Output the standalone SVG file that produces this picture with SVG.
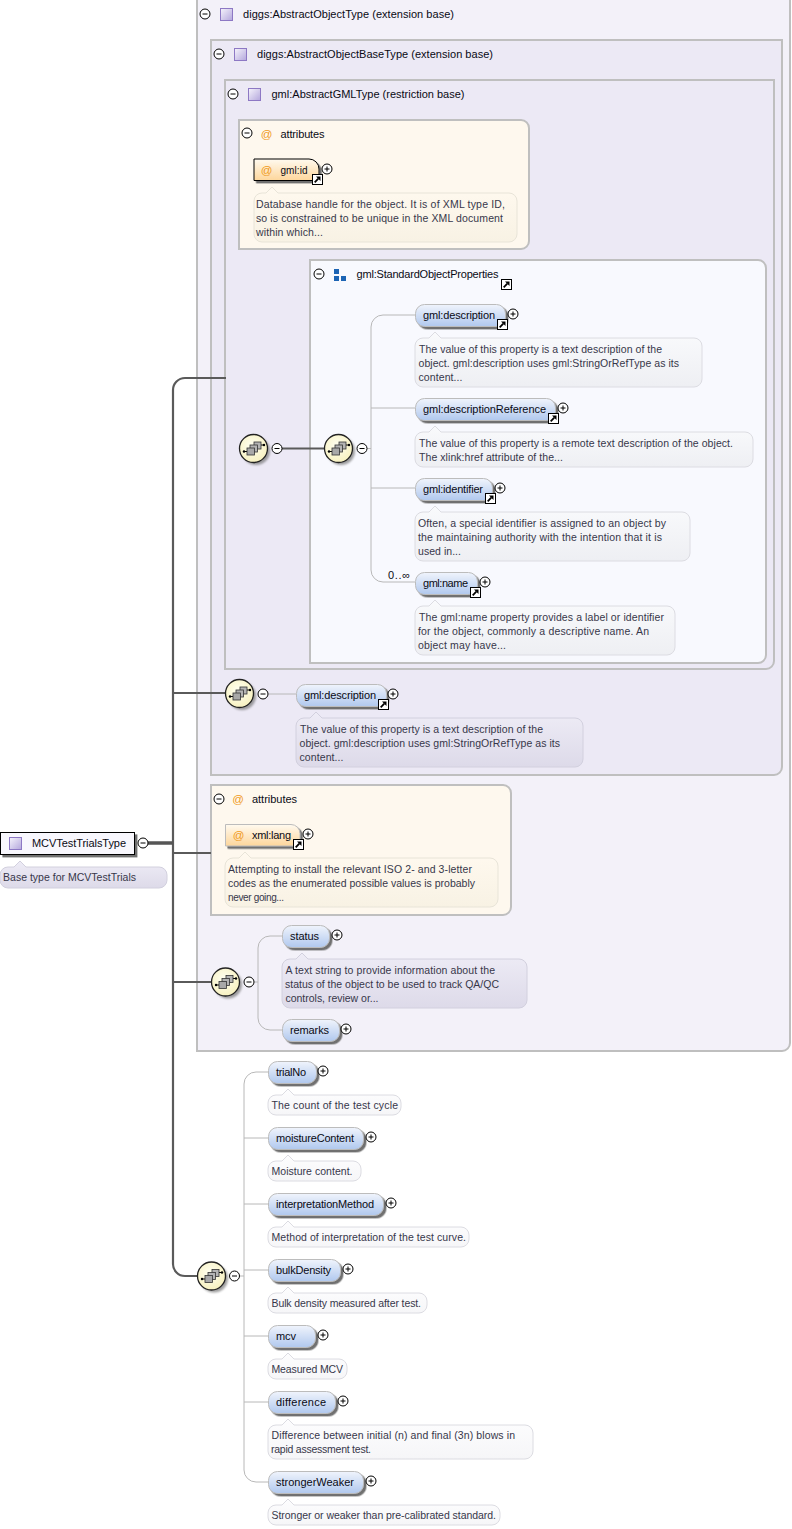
<svg xmlns="http://www.w3.org/2000/svg" width="792" height="1529" viewBox="0 0 792 1529">
<style>
text{font-family:"Liberation Sans",Arial,sans-serif;font-size:11px;fill:#0a0a14}
.d{font-size:10.5px;fill:#37374a}
.s{font-size:10px}
.box{stroke:#bfbfbf;stroke-width:2}
.rule{stroke:url(#rule);stroke-width:3;fill:none}
.el{fill:url(#blue);stroke:#bcbcbc;stroke-width:1;filter:url(#ds)}
.attr{fill:url(#org);stroke:#bcbcbc;filter:url(#ds)}
.doc{stroke:#dcdce2;stroke-width:1}
.dl{fill:url(#dl);stroke:#d2d0de}.dw{fill:url(#dw)}.dc{fill:url(#dc);stroke:#e8e4d8}.dg{fill:url(#dg)}
.c1{fill:none;stroke:#b8b8b8;stroke-width:1}
.c2{fill:none;stroke:#5a5a5a;stroke-width:2.2}
</style>
<defs>
<filter id="ds" x="-10%" y="-20%" width="125%" height="150%"><feDropShadow dx="2.4" dy="2.4" stdDeviation=".7" flood-color="#6f6f6f"/></filter>
<filter id="ss" x="-20%" y="-20%" width="150%" height="150%"><feGaussianBlur stdDeviation="1.2"/></filter>
<linearGradient id="blue" x1="0" y1="0" x2="0" y2="1"><stop offset="0" stop-color="#f0f4fc"/><stop offset="1" stop-color="#b0c8ee"/></linearGradient>
<linearGradient id="org" x1="0" y1="0" x2="0" y2="1"><stop offset="0" stop-color="#fffaf0"/><stop offset="1" stop-color="#fdd69b"/></linearGradient>
<linearGradient id="dl" x1="0" y1="0" x2="0" y2="1"><stop offset="0" stop-color="#eeecf6"/><stop offset="1" stop-color="#dddae9"/></linearGradient>
<linearGradient id="dw" x1="0" y1="0" x2="0" y2="1"><stop offset="0" stop-color="#fdfdfe"/><stop offset="1" stop-color="#f6f6f8"/></linearGradient>
<linearGradient id="dc" x1="0" y1="0" x2="0" y2="1"><stop offset="0" stop-color="#fff9ef"/><stop offset="1" stop-color="#f8f2e4"/></linearGradient>
<linearGradient id="dg" x1="0" y1="0" x2="0" y2="1"><stop offset="0" stop-color="#f9fafc"/><stop offset="1" stop-color="#eeeff3"/></linearGradient>
<linearGradient id="rule" x1="0" y1="0" x2="1" y2="0"><stop offset="0" stop-color="#dcdce0" stop-opacity=".4"/><stop offset=".3" stop-color="#dcdce0"/><stop offset="1" stop-color="#dcdce0" stop-opacity="0"/></linearGradient>
<linearGradient id="ty" x1="0" y1="0" x2="1" y2="1"><stop offset="0" stop-color="#f6f4fc"/><stop offset="1" stop-color="#b3a6dc"/></linearGradient>
<radialGradient id="cy" cx=".45" cy=".4" r=".7"><stop offset="0" stop-color="#fffff2"/><stop offset="1" stop-color="#f6efb8"/></radialGradient>
<g id="minus"><circle r="5" fill="#fff" stroke="#000"/><path d="M-2.5 0H2.5" stroke="#000"/></g>
<g id="plus"><circle r="5" fill="#fff" stroke="#000"/><path d="M-2.5 0H2.5M0 -2.5V2.500" stroke="#000"/></g>
<g id="link"><rect width="10" height="10" fill="#fff" stroke="#000"/><path d="M2.2 7.800L5.800 4.200" stroke="#000" stroke-width="1.800"/><path d="M3.500 2H8V6.500z" fill="#000"/></g>
<g id="type"><rect x="-6" y="-6" width="12" height="12" fill="url(#ty)" stroke="#8d78c4"/></g>
<g id="seq">
<circle cx="2.500" cy="2.500" r="14" fill="#777" opacity=".7" filter="url(#ss)"/>
<circle r="14" fill="url(#cy)" stroke="#222" stroke-width="1.300"/>
<path d="M-9.500 3H-6.500M7.500 -3.500H10.500" stroke="#000"/><circle cx="-9.500" cy="3" r="1.200" fill="#000"/><circle cx="10.500" cy="-3.500" r="1.200" fill="#000"/>
<rect x=".5" y="-6.500" width="7" height="7" fill="#b4b4b4" stroke="#333" stroke-width=".8"/>
<rect x="-3.500" y="-3.500" width="7.500" height="7" fill="#b4b4b4" stroke="#333" stroke-width=".8"/>
<rect x="-6.500" y="-.5" width="7.500" height="7" fill="#a8a8a8" stroke="#333" stroke-width=".8"/>
</g>
<g id="at"><text y="4" style="fill:#f09a1a;font-size:11.5px" text-anchor="middle">@</text></g>
</defs>
<rect width="792" height="1529" fill="#fff"/>

<g id="base1">
<path class="box" fill="#f3f1f9" d="M197 -3V1051H782a8 8 0 0 0 8 -8V-3z"/>
<path class="rule" d="M198 29H640"/>
<use href="#minus" x="205" y="14"/><use href="#type" x="226.500" y="14.500"/>
<text x="243" y="18" textLength="211">diggs:AbstractObjectType (extension base)</text>
</g>
<g id="base2">
<path class="box" fill="#ece9f5" d="M211 40H782V767a8 8 0 0 1 -8 8H211z"/>
<path class="rule" d="M212 69H640"/>
<use href="#minus" x="219" y="54"/><use href="#type" x="240.500" y="54.500"/>
<text x="257" y="58" textLength="236">diggs:AbstractObjectBaseType (extension base)</text>
</g>
<g id="base3">
<path class="box" fill="#ece9f5" d="M225 80H774V661a8 8 0 0 1 -8 8H225z"/>
<path class="rule" d="M226 109H640"/>
<use href="#minus" x="233" y="94"/><use href="#type" x="254.500" y="94.500"/>
<text x="271.500" y="98" textLength="193">gml:AbstractGMLType (restriction base)</text>
</g>
<g id="attributes1">
<path class="box" fill="#fef8ee" d="M239 120H521a8 8 0 0 1 8 8V241a8 8 0 0 1 -8 8H239z"/>
<path class="rule" d="M240 148H460"/>
<use href="#minus" x="247" y="133"/><use href="#at" x="266.500" y="134"/>
<text x="280.500" y="138" textLength="44">attributes</text>
</g>
<g id="StandardObjectProperties">
<path class="box" fill="#f8f9fe" d="M310 260H758a8 8 0 0 1 8 8V655a8 8 0 0 1 -8 8H310z"/>
<path class="rule" d="M311 293H650"/>
<use href="#minus" x="319" y="274"/>
<path d="M334 269h5v5h-5zM334 276h5v5h-5zM341 276h5v5h-5z" fill="#1c64b4"/>
<text x="356.500" y="278" textLength="142">gml:StandardObjectProperties</text>
<use href="#link" x="501.500" y="279.500"/>
</g>
<g id="attributes2">
<path class="box" fill="#fef8ee" d="M211 785H503a8 8 0 0 1 8 8V907a8 8 0 0 1 -8 8H211z"/>
<path class="rule" d="M212 813H440"/>
<use href="#minus" x="219" y="799"/><use href="#at" x="238" y="799"/>
<text x="252" y="803" textLength="45">attributes</text>
</g>

<g id="connectors">
<path class="c2" d="M226 378H185a12 12 0 0 0 -12 12V1264a12 12 0 0 0 12 12H199"/>
<path class="c2" d="M173 693H226M173 853H211M173 982H212"/>
<path d="M148 843H173" fill="none" stroke="#555" stroke-width="3.500"/>
<path class="c2" d="M282 448.500H326"/>
<path class="c1" d="M367 448.500H371M415 315H383a12 12 0 0 0 -12 12V570a12 12 0 0 0 12 12H415M371 408H415M371 488H415"/>
<path class="c1" d="M268 694H296"/>
<path class="c1" d="M254 982H258M282 936H270a12 12 0 0 0 -12 12V1018a12 12 0 0 0 12 12H282"/>
<path class="c1" d="M240 1276H244M268 1072H256a12 12 0 0 0 -12 12V1470a12 12 0 0 0 12 12H268M244 1138H268M244 1204H268M244 1270H268M244 1336H268M244 1402H268"/>
</g>

<g id="gml-id">
<path fill="url(#org)" stroke="#000" filter="url(#ds)" d="M254 159H309a10 10 0 0 1 10 10V180.500H254z"/>
<use href="#at" x="266.500" y="170"/>
<text class="s" x="280.500" y="174" textLength="27">gml:id</text>
<use href="#link" x="312.500" y="174.500"/><use href="#plus" x="327" y="169"/>
<path class="doc dc" d="M262 193H266L272 187L278 193H509a8 8 0 0 1 8 8V234a8 8 0 0 1 -8 8H262a8 8 0 0 1 -8 -8V201a8 8 0 0 1 8 -8z"/>
<text class="d" x="256" y="208" textLength="249">Database handle for the object. It is of XML type ID,</text>
<text class="d" x="256" y="222" textLength="247">so is constrained to be unique in the XML document</text>
<text class="d" x="256" y="236" textLength="67">within which...</text>
</g>
<g id="seq1"><use href="#seq" x="253.500" y="448.500"/><use href="#minus" x="277" y="448.500"/></g>
<g id="seq2"><use href="#seq" x="338.500" y="448.500"/><use href="#minus" x="362" y="448.500"/></g>

<g id="description">
<rect class="el" x="415.500" y="304.500" width="90" height="22" rx="9"/>
<text x="423" y="319" textLength="72">gml:description</text>
<use href="#link" x="497.500" y="319.500"/><use href="#plus" x="513" y="314"/>
<path class="doc dg" d="M423 338H429L435 332L441 338H694a8 8 0 0 1 8 8V379a8 8 0 0 1 -8 8H423a8 8 0 0 1 -8 -8V346a8 8 0 0 1 8 -8z"/>
<text class="d" x="419" y="353" textLength="243">The value of this property is a text description of the</text>
<text class="d" x="418.500" y="367" textLength="260.500">object. gml:description uses gml:StringOrRefType as its</text>
<text class="d" x="418.500" y="381" textLength="44">content...</text>
</g>
<g id="descriptionReference">
<rect class="el" x="415.500" y="398.500" width="140" height="22" rx="9"/>
<text x="423" y="413" textLength="123">gml:descriptionReference</text>
<use href="#link" x="548.500" y="413.500"/><use href="#plus" x="563" y="408"/>
<path class="doc dg" d="M423 432H429L435 426L441 432H745a8 8 0 0 1 8 8V459a8 8 0 0 1 -8 8H423a8 8 0 0 1 -8 -8V440a8 8 0 0 1 8 -8z"/>
<text class="d" x="419" y="447" textLength="314">The value of this property is a remote text description of the object.</text>
<text class="d" x="419" y="461" textLength="144">The xlink:href attribute of the...</text>
</g>
<g id="identifier">
<rect class="el" x="415.500" y="478.500" width="77" height="22" rx="9"/>
<text x="423" y="493" textLength="60">gml:identifier</text>
<use href="#link" x="485.500" y="493.500"/><use href="#plus" x="500" y="488"/>
<path class="doc dg" d="M423 512H429L435 506L441 512H682a8 8 0 0 1 8 8V553a8 8 0 0 1 -8 8H423a8 8 0 0 1 -8 -8V520a8 8 0 0 1 8 -8z"/>
<text class="d" x="418" y="527" textLength="248">Often, a special identifier is assigned to an object by</text>
<text class="d" x="418" y="541" textLength="244">the maintaining authority with the intention that it is</text>
<text class="d" x="418" y="555" textLength="43">used in...</text>
</g>
<g id="name">
<text x="388" y="579" textLength="22">0..∞</text>
<rect class="el" x="415.500" y="572.500" width="62" height="22" rx="9"/>
<text x="423" y="587" textLength="45">gml:name</text>
<use href="#link" x="470.500" y="587.500"/><use href="#plus" x="485" y="582"/>
<path class="doc dg" d="M423 606H429L435 600L441 606H667a8 8 0 0 1 8 8V647a8 8 0 0 1 -8 8H423a8 8 0 0 1 -8 -8V614a8 8 0 0 1 8 -8z"/>
<text class="d" x="419" y="621" textLength="245">The gml:name property provides a label or identifier</text>
<text class="d" x="418" y="635" textLength="231">for the object, commonly a descriptive name. An</text>
<text class="d" x="418" y="649" textLength="88">object may have...</text>
</g>

<g id="seq3"><use href="#seq" x="239.500" y="693.500"/><use href="#minus" x="263" y="694"/></g>
<g id="description2">
<rect class="el" x="296.500" y="684.500" width="90" height="22" rx="9"/>
<text x="304" y="699" textLength="72">gml:description</text>
<use href="#link" x="378.500" y="699.500"/><use href="#plus" x="393" y="694"/>
<path class="doc dl" d="M304 718H310L316 712L322 718H575a8 8 0 0 1 8 8V759a8 8 0 0 1 -8 8H304a8 8 0 0 1 -8 -8V726a8 8 0 0 1 8 -8z"/>
<text class="d" x="300" y="733" textLength="243">The value of this property is a text description of the</text>
<text class="d" x="299.500" y="747" textLength="260.500">object. gml:description uses gml:StringOrRefType as its</text>
<text class="d" x="299.500" y="761" textLength="44">content...</text>
</g>

<g id="xml-lang">
<path class="attr" d="M225.500 824.500H291a9 9 0 0 1 9 9V846H225.500z"/>
<use href="#at" x="238.500" y="835"/>
<text x="252" y="839" textLength="39">xml:lang</text>
<use href="#link" x="293.500" y="839.500"/><use href="#plus" x="308" y="834"/>
<path class="doc dc" d="M233 858H239L245 852L251 858H490a8 8 0 0 1 8 8V899a8 8 0 0 1 -8 8H233a8 8 0 0 1 -8 -8V866a8 8 0 0 1 8 -8z"/>
<text class="d" x="228" y="873" textLength="244">Attempting to install the relevant ISO 2- and 3-letter</text>
<text class="d" x="228" y="887" textLength="247">codes as the enumerated possible values is probably</text>
<text class="d s" x="228" y="901" textLength="56">never going...</text>
</g>

<g id="seq4"><use href="#seq" x="225.500" y="982"/><use href="#minus" x="249" y="982"/></g>
<g id="status">
<rect class="el" x="282.500" y="925.500" width="47" height="22" rx="9"/>
<text x="290" y="940" textLength="29">status</text>
<use href="#plus" x="337" y="935"/>
<path class="doc dl" d="M290 959H296L302 953L308 959H519a8 8 0 0 1 8 8V1000a8 8 0 0 1 -8 8H290a8 8 0 0 1 -8 -8V967a8 8 0 0 1 8 -8z"/>
<text class="d" x="285.500" y="974" textLength="209.500">A text string to provide information about the</text>
<text class="d" x="285" y="988" textLength="214">status of the object to be used to track QA/QC</text>
<text class="d" x="285.500" y="1002" textLength="93">controls, review or...</text>
</g>
<g id="remarks">
<rect class="el" x="282.500" y="1019.500" width="57" height="22" rx="9"/>
<text x="290" y="1034" textLength="39">remarks</text>
<use href="#plus" x="346" y="1029"/>
</g>

<g id="root">
<rect x="0.500" y="832.500" width="134" height="22" fill="#f8f7fd" stroke="#000" filter="url(#ds)"/>
<use href="#type" x="15.500" y="843.500"/>
<text x="32" y="847" textLength="94">MCVTestTrialsType</text>
<use href="#minus" x="143" y="843"/>
<path class="doc dl" d="M8 867H14L20 861L26 867H159a8 8 0 0 1 8 8V880a8 8 0 0 1 -8 8H8a8 8 0 0 1 -8 -8V875a8 8 0 0 1 8 -8z"/>
<text class="d" x="3" y="881" textLength="133">Base type for MCVTestTrials</text>
</g>

<g id="seq5"><use href="#seq" x="211.500" y="1276"/><use href="#minus" x="234.500" y="1276"/></g>
<g id="trialNo">
<rect class="el" x="268.500" y="1061.500" width="48" height="22" rx="9"/>
<text x="276" y="1076" textLength="30">trialNo</text><use href="#plus" x="323" y="1071"/>
<path class="doc dw" d="M276 1095H282L288 1089L294 1095H393a8 8 0 0 1 8 8V1107a8 8 0 0 1 -8 8H276a8 8 0 0 1 -8 -8V1103a8 8 0 0 1 8 -8z"/>
<text class="d" x="271.500" y="1109" textLength="126.500">The count of the test cycle</text>
</g>
<g id="moistureContent">
<rect class="el" x="268.500" y="1127.500" width="95" height="22" rx="9"/>
<text x="276" y="1142" textLength="78">moistureContent</text><use href="#plus" x="371" y="1137"/>
<path class="doc dw" d="M276 1161H282L288 1155L294 1161H353a8 8 0 0 1 8 8V1173a8 8 0 0 1 -8 8H276a8 8 0 0 1 -8 -8V1169a8 8 0 0 1 8 -8z"/>
<text class="d" x="271.500" y="1175" textLength="81">Moisture content.</text>
</g>
<g id="interpretationMethod">
<rect class="el" x="268.500" y="1193.500" width="115" height="22" rx="9"/>
<text x="276" y="1208" textLength="98">interpretationMethod</text><use href="#plus" x="391" y="1203"/>
<path class="doc dw" d="M276 1227H282L288 1221L294 1227H461a8 8 0 0 1 8 8V1239a8 8 0 0 1 -8 8H276a8 8 0 0 1 -8 -8V1235a8 8 0 0 1 8 -8z"/>
<text class="d" x="271.500" y="1241" textLength="194.500">Method of interpretation of the test curve.</text>
</g>
<g id="bulkDensity">
<rect class="el" x="268.500" y="1259.500" width="72" height="22" rx="9"/>
<text x="276" y="1274" textLength="55">bulkDensity</text><use href="#plus" x="348" y="1269"/>
<path class="doc dw" d="M276 1293H282L288 1287L294 1293H419a8 8 0 0 1 8 8V1305a8 8 0 0 1 -8 8H276a8 8 0 0 1 -8 -8V1301a8 8 0 0 1 8 -8z"/>
<text class="d" x="271.500" y="1307" textLength="149.500">Bulk density measured after test.</text>
</g>
<g id="mcv">
<rect class="el" x="268.500" y="1325.500" width="47" height="22" rx="9"/>
<text x="276" y="1340" textLength="20">mcv</text><use href="#plus" x="323" y="1335"/>
<path class="doc dw" d="M276 1359H282L288 1353L294 1359H339a8 8 0 0 1 8 8V1371a8 8 0 0 1 -8 8H276a8 8 0 0 1 -8 -8V1367a8 8 0 0 1 8 -8z"/>
<text class="d" x="271.500" y="1373" textLength="71.500">Measured MCV</text>
</g>
<g id="difference">
<rect class="el" x="268.500" y="1391.500" width="67" height="22" rx="9"/>
<text x="276" y="1406" textLength="50">difference</text><use href="#plus" x="343" y="1401"/>
<path class="doc dw" d="M276 1425H282L288 1419L294 1425H525a8 8 0 0 1 8 8V1451a8 8 0 0 1 -8 8H276a8 8 0 0 1 -8 -8V1433a8 8 0 0 1 8 -8z"/>
<text class="d" x="271.500" y="1439" textLength="243.500">Difference between initial (n) and final (3n) blows in</text>
<text class="d" x="271" y="1453" textLength="100">rapid assessment test.</text>
</g>
<g id="strongerWeaker">
<rect class="el" x="268.500" y="1471.500" width="95" height="22" rx="9"/>
<text x="276" y="1486" textLength="78">strongerWeaker</text><use href="#plus" x="371" y="1481"/>
<path class="doc dw" d="M276 1505H282L288 1499L294 1505H492a8 8 0 0 1 8 8V1517a8 8 0 0 1 -8 8H276a8 8 0 0 1 -8 -8V1513a8 8 0 0 1 8 -8z"/>
<text class="d" x="271.500" y="1519" textLength="224.500">Stronger or weaker than pre-calibrated standard.</text>
</g>
</svg>
